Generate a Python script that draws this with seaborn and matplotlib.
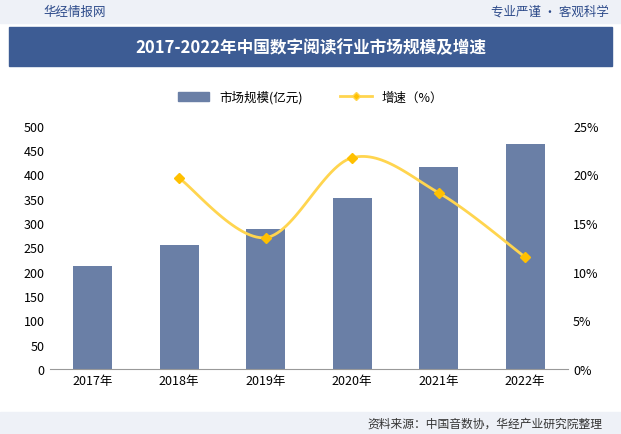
import numpy as np
import pandas as pd
import matplotlib
matplotlib.use("Agg")
import matplotlib.pyplot as plt
import seaborn as sns
from matplotlib.lines import Line2D
from matplotlib.patches import Patch

plt.rcParams["font.family"] = "Noto Sans CJK SC"

years = ["2017年", "2018年", "2019年", "2020年", "2021年", "2022年"]
market = [212, 254, 288, 352, 415, 463]
growth_years = ["2018年", "2019年", "2020年", "2021年", "2022年"]
growth = [19.6, 13.5, 21.7, 18.1, 11.5]

fig = plt.figure(figsize=(6.21, 4.35), dpi=100)
fig.patch.set_facecolor("white")
fig.add_artist(plt.Rectangle((0, 0.945), 1, 0.055, transform=fig.transFigure, color="#eef1f7", zorder=0))
fig.text(0.07, 0.972, "华经情报网", fontsize=9, color="#2c4a8a", va="center")
fig.text(0.98, 0.972, "专业严谨 • 客观科学", fontsize=9, color="#2c4a8a", va="center", ha="right")
fig.add_artist(plt.Rectangle((0.015, 0.845), 0.97, 0.09, transform=fig.transFigure, color="#3d5c94", zorder=0))
fig.text(0.5, 0.89, "2017-2022年中国数字阅读行业市场规模及增速", fontsize=12, color="white",
         fontweight="bold", ha="center", va="center")
fig.add_artist(plt.Rectangle((0, 0), 1, 0.05, transform=fig.transFigure, color="#eef1f7", zorder=0))
fig.text(0.97, 0.025, "资料来源：中国音数协，华经产业研究院整理", fontsize=8.5, color="#333333",
         ha="right", va="center")

ax = fig.add_axes([0.08, 0.149, 0.835, 0.56])
df = pd.DataFrame({"year": years, "v": market})
sns.barplot(data=df, x="year", y="v", color="#6a7fa6", width=0.45, ax=ax, saturation=1)
ax.set_ylim(0, 500)
ax.set_yticks(range(0, 501, 50))
ax.set_xlabel(""); ax.set_ylabel("")
for s in ["top", "right", "left"]:
    ax.spines[s].set_visible(False)
ax.spines["bottom"].set_color("#999999")
ax.tick_params(axis="y", length=0, labelsize=9)
ax.tick_params(axis="x", length=0, labelsize=9)

ax2 = ax.twinx()
xs = np.array([years.index(y) for y in growth_years], dtype=float)
ys = np.array(growth)
px, py = [], []
P = np.column_stack([xs, ys])
P = np.vstack([P[0], P, P[-1]])
for i in range(1, len(P) - 2):
    t = np.linspace(0, 1, 30)[:, None]
    p0, p1, p2, p3 = P[i-1], P[i], P[i+1], P[i+2]
    c = 0.5 * ((2*p1) + (-p0+p2)*t + (2*p0-5*p1+4*p2-p3)*t**2 + (-p0+3*p1-3*p2+p3)*t**3)
    px.extend(c[:, 0]); py.extend(c[:, 1])
sns.lineplot(x=px, y=py, ax=ax2, color="#ffd54f", linewidth=2, sort=False)
ax2.plot(xs, ys, "D", color="#ffc000", markersize=5)
ax2.set_ylim(0, 25)
ax2.set_yticks(range(0, 26, 5))
ax2.set_yticklabels([f"{v}%" for v in range(0, 26, 5)])
for s in ["top", "right", "left", "bottom"]:
    ax2.spines[s].set_visible(False)
ax2.tick_params(axis="y", length=0, labelsize=9)
if ax.get_legend():
    ax.get_legend().remove()
if ax2.get_legend():
    ax2.get_legend().remove()

handles = [Patch(color="#6a7fa6"), Line2D([], [], color="#ffd54f", lw=2, marker="D", markersize=4, markerfacecolor="#ffc000")]
fig.legend(handles, ["市场规模(亿元)", "增速（%）"], loc="center", bbox_to_anchor=(0.5, 0.775),
           ncol=2, frameon=False, fontsize=9, handlelength=2.5, columnspacing=3)
fig.savefig("out.png", dpi=100)
